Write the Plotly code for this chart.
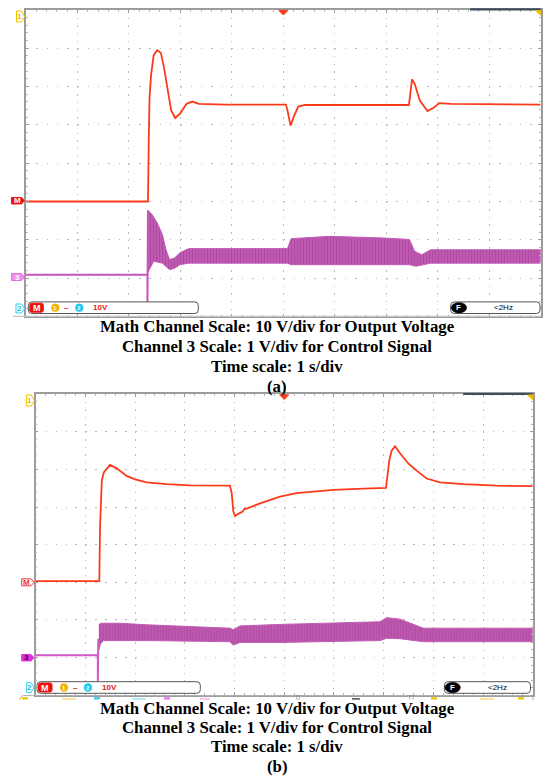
import plotly.graph_objects as go

W, H = 546, 777

# ---------------- data (in screen divisions: x 0..10, y 0..8) ----------------
# Panel (a)
RED_A_X = [0, 2.37, 2.385, 2.40, 2.43, 2.48, 2.55, 2.62, 2.68, 2.75, 2.82, 2.90, 2.99, 3.12, 3.23, 3.36,
           3.87, 5.05, 5.08, 5.14, 5.21, 5.29, 5.42, 7.44, 7.47, 7.50, 7.55, 7.65, 7.80, 7.92, 8.03, 8.26, 10]
RED_A_Y = [3.0, 3.0, 4.6, 5.7, 6.3, 6.82, 6.95, 6.88, 6.51, 5.90, 5.38, 5.18, 5.29, 5.55, 5.61, 5.55,
           5.53, 5.53, 5.38, 4.98, 5.24, 5.48, 5.52, 5.52, 5.94, 6.19, 6.08, 5.64, 5.36, 5.45, 5.57, 5.55, 5.53]

CTRL_A_X = [0, 2.36, 2.36, 2.37]
CTRL_A_Y = [1.09, 1.09, 0.35, 2.77]
BAND_A_UP_X = [2.37, 2.45, 2.55, 2.65, 2.72, 2.79, 2.89, 2.99, 3.16, 5.08, 5.15, 5.90, 6.91, 7.45, 7.55, 7.69, 7.86, 10]
BAND_A_UP_Y = [2.77, 2.66, 2.44, 2.14, 1.74, 1.48, 1.53, 1.66, 1.77, 1.77, 2.03, 2.09, 2.05, 2.01, 1.70, 1.61, 1.74, 1.74]
BAND_A_LO_X = [2.37, 2.48, 2.65, 2.72, 2.79, 2.89, 2.99, 3.16, 5.08, 5.15, 7.45, 7.58, 7.72, 7.86, 10]
BAND_A_LO_Y = [1.15, 1.44, 1.39, 1.31, 1.22, 1.26, 1.35, 1.39, 1.39, 1.35, 1.35, 1.31, 1.35, 1.39, 1.39]

# Panel (b)
RED_B_X = [0, 1.28, 1.295, 1.31, 1.33, 1.37, 1.414, 1.495, 1.629, 1.830, 1.998, 2.233, 2.635, 3.105, 3.909,
           3.943, 3.977, 4.010, 4.077, 4.164, 4.191, 4.245, 4.513, 4.915, 5.251, 5.586, 5.989, 6.592, 7.048,
           7.075, 7.115, 7.162, 7.229, 7.330, 7.497, 7.665, 7.866, 8.134, 8.604, 9.275, 10.0]
RED_B_Y = [3.03, 3.03, 4.5, 5.3, 5.7, 5.92, 6.0, 6.12, 6.03, 5.83, 5.74, 5.66, 5.61, 5.58, 5.57,
           5.37, 4.88, 4.76, 4.82, 4.88, 4.94, 4.96, 5.10, 5.28, 5.37, 5.41, 5.46, 5.49, 5.51,
           5.81, 6.25, 6.50, 6.62, 6.43, 6.16, 5.97, 5.76, 5.66, 5.61, 5.57, 5.56]

CTRL_B_X = [0, 1.25, 1.25, 1.26]
CTRL_B_Y = [1.06, 1.06, 0.36, 1.5]
BAND_B_UP_X = [1.27, 1.30, 1.696, 2.233, 3.909, 3.977, 4.111, 4.915, 6.927, 7.061, 7.330, 7.464, 7.799, 10]
BAND_B_UP_Y = [1.85, 1.91, 1.91, 1.87, 1.78, 1.74, 1.84, 1.88, 1.95, 2.06, 2.02, 1.95, 1.78, 1.78]
BAND_B_LO_X = [1.27, 1.30, 1.36, 1.696, 2.233, 3.909, 3.977, 4.111, 4.915, 6.927, 7.061, 7.330, 7.464, 7.799, 10]
BAND_B_LO_Y = [1.2, 1.35, 1.45, 1.45, 1.45, 1.42, 1.33, 1.40, 1.40, 1.45, 1.51, 1.50, 1.47, 1.42, 1.42]

CAPTION_LINES = ["Math Channel Scale: 10 V/div for Output Voltage",
                 "Channel 3 Scale: 1 V/div for Control Signal",
                 "Time scale: 1 s/div"]
PANEL_LABELS = ["(a)", "(b)"]

# ---------------- colours ----------------
RED = "#fb3a1a"
PURPLE_LINE_A = "#c653bf"
PURPLE_LINE_B = "#d257c8"
BAND_FG = "#983a8e"
BAND_BG = "#c25cb4"
GRID = "#b9b9b9"
FRAME = "#9c9c9c"


def PX(x):
    return x / W


def PY(y):
    return 1 - y / H


fig = go.Figure()

PANELS = [
    dict(x0=26.0, x1=540.7, y0=10.0, y1=316.4),
    dict(x0=35.7, x1=532.7, y0=394.3, y1=695.1),
]


def add_band(xa, ya, ux, uy, lx, ly):
    fig.add_trace(go.Scatter(
        x=list(ux) + list(lx)[::-1], y=list(uy) + list(ly)[::-1],
        xaxis=xa, yaxis=ya, mode="lines", fill="toself",
        fillcolor=BAND_BG, line=dict(color=BAND_BG, width=1),
        fillpattern=dict(shape="|", bgcolor=BAND_BG, fgcolor=BAND_FG, size=3, solidity=0.45),
        hoverinfo="skip", showlegend=False))


fig.add_trace(go.Scatter(x=CTRL_A_X, y=CTRL_A_Y, xaxis="x", yaxis="y", mode="lines",
                         line=dict(color=PURPLE_LINE_A, width=2), hoverinfo="skip", showlegend=False))
add_band("x", "y", BAND_A_UP_X, BAND_A_UP_Y, BAND_A_LO_X, BAND_A_LO_Y)
fig.add_trace(go.Scatter(x=RED_A_X, y=RED_A_Y, xaxis="x", yaxis="y", mode="lines",
                         line=dict(color=RED, width=1.8), hoverinfo="skip", showlegend=False))
fig.add_trace(go.Scatter(x=CTRL_B_X, y=CTRL_B_Y, xaxis="x2", yaxis="y2", mode="lines",
                         line=dict(color=PURPLE_LINE_B, width=2), hoverinfo="skip", showlegend=False))
add_band("x2", "y2", BAND_B_UP_X, BAND_B_UP_Y, BAND_B_LO_X, BAND_B_LO_Y)
fig.add_trace(go.Scatter(x=RED_B_X, y=RED_B_Y, xaxis="x2", yaxis="y2", mode="lines",
                         line=dict(color=RED, width=1.8), hoverinfo="skip", showlegend=False))


def axis(domain, rng, dtick, dash, minor_dtick):
    return dict(domain=domain, range=rng, dtick=dtick, showgrid=True, gridcolor=GRID, gridwidth=1.4,
                griddash=dash, showline=True, linecolor=FRAME, linewidth=1.5, mirror="ticks",
                ticks="inside", ticklen=3, tickcolor=FRAME, tickwidth=1,
                minor=dict(dtick=minor_dtick, ticks="inside", ticklen=2, tickcolor="#b5b5b5", showgrid=False),
                showticklabels=False, zeroline=False, fixedrange=True)


layout_axes = {}
for i, p in enumerate(PANELS):
    dx = (p["x1"] - p["x0"]) / 10
    dy = (p["y1"] - p["y0"]) / 8
    sfx = "" if i == 0 else "2"
    layout_axes["xaxis" + sfx] = axis([PX(p["x0"]), PX(p["x1"])], [0, 10], 1,
                                      "1.4px,%.2fpx" % (dy / 5 - 1.4), 0.2)
    layout_axes["yaxis" + sfx] = axis([PY(p["y1"]), PY(p["y0"])], [0, 8], 1,
                                      "1.4px,%.2fpx" % (dx / 5 - 1.4), 0.2)
    if i == 1:
        layout_axes["xaxis2"]["anchor"] = "y2"
        layout_axes["yaxis2"]["anchor"] = "x2"

shapes = []
annotations = []


def rrect(x0, y0, x1, y1, r, color="#444", fill="white", width=1):
    pts = [("M", x0 + r, y0), ("L", x1 - r, y0), ("Q", x1, y0, x1, y0 + r), ("L", x1, y1 - r),
           ("Q", x1, y1, x1 - r, y1), ("L", x0 + r, y1), ("Q", x0, y1, x0, y1 - r), ("L", x0, y0 + r),
           ("Q", x0, y0, x0 + r, y0)]
    s = ""
    for p in pts:
        cmd = p[0]
        coords = p[1:]
        s += cmd + " " + " ".join("%.5f,%.5f" % (PX(coords[k]), PY(coords[k + 1]))
                                  for k in range(0, len(coords), 2)) + " "
    s += "Z"
    shapes.append(dict(type="path", path=s, xref="paper", yref="paper",
                       line=dict(color=color, width=width), fillcolor=fill, layer="above"))


def poly(points, color, fill, width=1):
    s = "M " + " L ".join("%.5f,%.5f" % (PX(x), PY(y)) for x, y in points) + " Z"
    shapes.append(dict(type="path", path=s, xref="paper", yref="paper",
                       line=dict(color=color, width=width), fillcolor=fill, layer="above"))


def text(x, y, t, size=8, color="black", family="Liberation Sans", bold=False, xanchor="center"):
    if bold:
        t = "<b>" + t + "</b>"
    annotations.append(dict(x=PX(x), y=PY(y), xref="paper", yref="paper", text=t, showarrow=False,
                            xanchor=xanchor, yanchor="middle",
                            font=dict(size=size, color=color, family=family)))


def circle(cx, cy, r, fill):
    shapes.append(dict(type="circle", xref="paper", yref="paper", x0=PX(cx - r), x1=PX(cx + r),
                       y0=PY(cy + r), y1=PY(cy - r), line=dict(color=fill, width=0.5),
                       fillcolor=fill, layer="above"))


def tag(x0, x1, yc, h, label, line, fill, tcolor):
    poly([(x0, yc - h / 2), (x1 - 3, yc - h / 2), (x1, yc), (x1 - 3, yc + h / 2), (x0, yc + h / 2)],
         line, fill)
    text((x0 + x1) / 2 - 1, yc, label, size=8, color=tcolor, bold=True)


def status(px0, left_x1, right_x0, px1, yc):
    y0, y1 = yc - 5.8, yc + 5.8
    rrect(px0, y0, left_x1, y1, 3.5, color="#555", width=1)
    rrect(right_x0, y0, px1, y1, 3.5, color="#555", width=1)
    rrect(px0 + 1.5, y0 + 1.3, px0 + 15, y1 - 1.3, 2, color="#ee1111", fill="#ee1111")
    text(px0 + 8.3, yc, "M", size=9, color="white", bold=True)
    circle(px0 + 27, yc, 3.9, "#f2b400")
    text(px0 + 27, yc, "1", size=6, color="white", bold=True)
    text(px0 + 38.5, yc, "–", size=8, color="#d02020", bold=True)
    circle(px0 + 51, yc, 3.9, "#1ec8ee")
    text(px0 + 51, yc, "2", size=6, color="white", bold=True)
    text(px0 + 72, yc, "10V", size=8, color="#e01818", bold=True)
    shapes.append(dict(type="circle", xref="paper", yref="paper", x0=PX(right_x0 + 0.5),
                       x1=PX(right_x0 + 16), y0=PY(y1 - 0.6), y1=PY(y0 + 0.6),
                       line=dict(color="black", width=0.5), fillcolor="black", layer="above"))
    text(right_x0 + 8.2, yc, "F", size=8, color="white", bold=True)
    text(right_x0 + 53, yc, "<2Hz", size=8, color="black")


# ---------- panel (a) decorations ----------
pa = PANELS[0]
shapes.append(dict(type="line", xref="paper", yref="paper", x0=PX(13), x1=PX(pa["x1"]),
                   y0=PY(316.4), y1=PY(316.4), line=dict(color="#c4c4c4", width=1.2)))
poly([(278.9, 10.5), (287.9, 10.5), (283.4, 15)], RED, RED)
shapes.append(dict(type="line", xref="paper", yref="paper", x0=PX(470), x1=PX(pa["x1"]),
                   y0=PY(9.3), y1=PY(9.3), line=dict(color="#3d4d5c", width=2.2)))
poly([(535.5, 10.5), (540.5, 10.5), (540.5, 15)], "#f0c000", "#f0c000")
tag(16.5, 24.5, 16.5, 11, "1", "#f0c000", "white", "#e8b800")
tag(11.5, 24.5, 200.7, 6.5, "M", "#ee1111", "#ee1111", "white")
tag(11.5, 24.5, 277, 7, "3", "#e870e0", "#f090ee", "white")
tag(16, 24.5, 308.5, 9, "2", "#30d0f0", "white", "#20c0e8")
status(28.3, 198.3, 450.7, 540.0, 307.7)

# ---------- panel (b) decorations ----------
pb = PANELS[1]
poly([(279.7, 394.8), (288.7, 394.8), (284.2, 399.5)], RED, RED)
shapes.append(dict(type="line", xref="paper", yref="paper", x0=PX(463.3), x1=PX(pb["x1"]),
                   y0=PY(394.0), y1=PY(394.0), line=dict(color="#3d4d5c", width=2.2)))
poly([(527.5, 395), (532.5, 395), (532.5, 399.5)], "#f0c000", "#f0c000")
tag(26.3, 34.3, 400.5, 11, "1", "#f0c000", "white", "#e8b800")
tag(21.7, 34.0, 582.3, 7, "M", "#ee3030", "white", "#ee3030")
tag(21.7, 34.0, 657.7, 6.5, "3", "#e030e0", "#e030e0", "#400040")
tag(26.7, 34.0, 687.5, 10, "2", "#30d0f0", "white", "#20c0e8")
status(37.0, 200.3, 444.4, 530.5, 687.5)
for bx0, bx1 in [(20, 297), (299, 410), (413, 533)]:
    shapes.append(dict(type="path", xref="paper", yref="paper",
                       path="M %.5f,%.5f Q %.5f,%.5f %.5f,%.5f L %.5f,%.5f Q %.5f,%.5f %.5f,%.5f" % (
                           PX(bx0), PY(700), PX(bx0), PY(695.6), PX(bx0 + 4), PY(695.6),
                           PX(bx1 - 4), PY(695.6), PX(bx1), PY(695.6), PX(bx1), PY(700)),
                       line=dict(color="#b0b0b0", width=1), layer="above"))
for cx, col in [(25, "#f2c200"), (97, "#30d0f0"), (167, "#f070f0"), (434, "#f2c200"), (521, "#f2c200")]:
    shapes.append(dict(type="rect", xref="paper", yref="paper", x0=PX(cx - 3), x1=PX(cx + 3),
                       y0=PY(699.5), y1=PY(697.2), line=dict(width=0), fillcolor=col, layer="above"))
for cx0, cx1, col in [(62, 76, "#f5d060"), (132, 146, "#80e0f0"), (200, 210, "#f0a0f0"),
                      (352, 360, "#222222"), (480, 494, "#f5d060")]:
    shapes.append(dict(type="rect", xref="paper", yref="paper", x0=PX(cx0), x1=PX(cx1),
                       y0=PY(699.5), y1=PY(698.3), line=dict(width=0), fillcolor=col, layer="above"))

# ---------- captions ----------
CAP_Y = [[326.7, 346.7, 366.2, 386.0], [708.3, 727.3, 746.7, 766.7]]
for k in range(2):
    for j, line in enumerate(CAPTION_LINES):
        text(277, CAP_Y[k][j], line, size=16.8, family="Liberation Serif", bold=True)
    text(277, CAP_Y[k][3], PANEL_LABELS[k], size=16.8, family="Liberation Serif", bold=True)

fig.update_layout(width=W, height=H, margin=dict(l=0, r=0, t=0, b=0), paper_bgcolor="white",
                  plot_bgcolor="white", showlegend=False, shapes=shapes, annotations=annotations,
                  **layout_axes)

fig.write_html("out.html", config={"displayModeBar": False})
